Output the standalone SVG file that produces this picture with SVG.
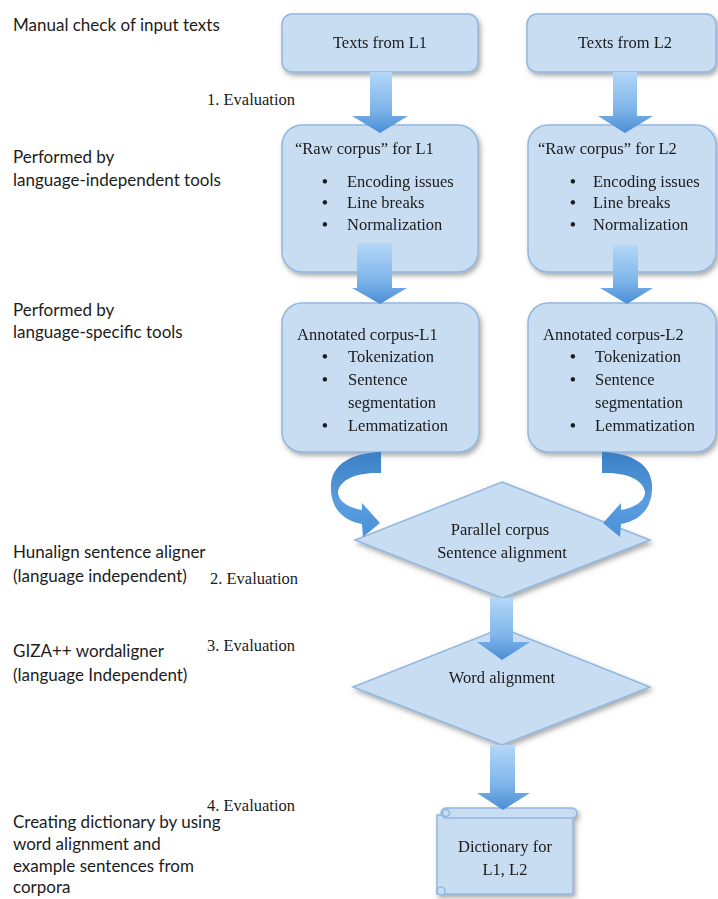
<svg xmlns="http://www.w3.org/2000/svg" width="718" height="899" viewBox="0 0 718 899">
<defs>
<style>
.box{fill:#c8ddf2;stroke:#92b8df;stroke-width:1.5}
.lbl{font-family:Lato,"Open Sans",sans-serif;font-size:17px;fill:#1c1c1c}
.ser{font-family:"Liberation Serif","Times New Roman",serif;font-size:16.5px;fill:#1a1a1a}
.bul{font-weight:bold}
.arr{fill:url(#ag)}
.carr{fill:url(#cg)}
</style>
<linearGradient id="ag" x1="0" y1="0" x2="0" y2="1">
<stop offset="0" stop-color="#b4d7f8"/>
<stop offset="0.6" stop-color="#7fb5ea"/>
<stop offset="1" stop-color="#4a8dd5"/>
</linearGradient>
<linearGradient id="cg" x1="0" y1="0" x2="0" y2="1">
<stop offset="0" stop-color="#3a7ec4"/>
<stop offset="0.6" stop-color="#5a9ee0"/>
<stop offset="1" stop-color="#4a90d8"/>
</linearGradient>
<filter id="sh" x="-10%" y="-10%" width="130%" height="140%">
<feDropShadow dx="2" dy="3" stdDeviation="2.5" flood-color="#555" flood-opacity="0.5"/>
</filter>
</defs>
<rect width="718" height="899" fill="#fff"/>

<g id="labels">
<text class="lbl" x="13" y="31">Manual check of input texts</text>
<text class="lbl" x="13" y="163">Performed by</text>
<text class="lbl" x="13" y="186">language-independent tools</text>
<text class="lbl" x="13" y="316">Performed by</text>
<text class="lbl" x="13" y="338">language-specific tools</text>
<text class="lbl" x="13" y="558">Hunalign sentence aligner</text>
<text class="lbl" x="13" y="582">(language independent)</text>
<text class="lbl" x="13" y="657">GIZA++ wordaligner</text>
<text class="lbl" x="13" y="681">(language Independent)</text>
<text class="lbl" x="13" y="828">Creating dictionary by using</text>
<text class="lbl" x="13" y="850">word alignment and</text>
<text class="lbl" x="13" y="872">example sentences from</text>
<text class="lbl" x="13" y="893">corpora</text>
<text class="ser" x="207" y="105">1. Evaluation</text>
<text class="ser" x="210" y="584">2. Evaluation</text>
<text class="ser" x="207" y="651">3. Evaluation</text>
<text class="ser" x="207" y="811">4. Evaluation</text>
</g>

<g id="texts-l1" filter="url(#sh)">
<rect class="box" x="282" y="14" width="196" height="58" rx="10"/>
<text class="ser" x="380" y="48" text-anchor="middle">Texts from L1</text>
</g>
<g id="texts-l2" filter="url(#sh)">
<rect class="box" x="527" y="14" width="189" height="58" rx="10"/>
<text class="ser" x="625" y="48" text-anchor="middle">Texts from L2</text>
</g>

<g id="raw-l1" filter="url(#sh)">
<rect class="box" x="282" y="125" width="196" height="147" rx="20"/>
<text class="ser" x="295" y="154">“Raw corpus” for L1</text>
<text class="ser bul" x="322" y="187">•</text><text class="ser" x="347" y="187">Encoding issues</text>
<text class="ser bul" x="322" y="208">•</text><text class="ser" x="347" y="208">Line breaks</text>
<text class="ser bul" x="322" y="230">•</text><text class="ser" x="347" y="230">Normalization</text>
</g>
<g id="raw-l2" filter="url(#sh)">
<rect class="box" x="528" y="125" width="188" height="147" rx="20"/>
<text class="ser" x="538" y="154">“Raw corpus” for L2</text>
<text class="ser bul" x="570" y="187">•</text><text class="ser" x="593" y="187">Encoding issues</text>
<text class="ser bul" x="570" y="208">•</text><text class="ser" x="593" y="208">Line breaks</text>
<text class="ser bul" x="570" y="230">•</text><text class="ser" x="593" y="230">Normalization</text>
</g>

<g id="ann-l1" filter="url(#sh)">
<rect class="box" x="282" y="303" width="197" height="149" rx="20"/>
<text class="ser" x="297" y="340">Annotated corpus-L1</text>
<text class="ser bul" x="322" y="362">•</text><text class="ser" x="348" y="362">Tokenization</text>
<text class="ser bul" x="322" y="385">•</text><text class="ser" x="348" y="385">Sentence</text>
<text class="ser" x="348" y="408">segmentation</text>
<text class="ser bul" x="322" y="431">•</text><text class="ser" x="348" y="431">Lemmatization</text>
</g>
<g id="ann-l2" filter="url(#sh)">
<rect class="box" x="528" y="303" width="188" height="149" rx="20"/>
<text class="ser" x="543" y="340">Annotated corpus-L2</text>
<text class="ser bul" x="570" y="362">•</text><text class="ser" x="595" y="362">Tokenization</text>
<text class="ser bul" x="570" y="385">•</text><text class="ser" x="595" y="385">Sentence</text>
<text class="ser" x="595" y="408">segmentation</text>
<text class="ser bul" x="570" y="431">•</text><text class="ser" x="595" y="431">Lemmatization</text>
</g>

<g id="parallel" filter="url(#sh)">
<polygon class="box" points="502,482 650,540 502,598 355,540"/>
<text class="ser" x="500" y="535" text-anchor="middle">Parallel corpus</text>
<text class="ser" x="502" y="558" text-anchor="middle">Sentence alignment</text>
</g>

<g id="word" filter="url(#sh)">
<polygon class="box" points="502,628 650,687 502,745 353,687"/>
<text class="ser" x="502" y="683" text-anchor="middle">Word alignment</text>
</g>

<g id="dictionary" filter="url(#sh)">
<path class="box" d="M437 815 H573 V894 H437 Z"/>
<rect class="box" x="441" y="808" width="136" height="10" rx="5"/>
<circle class="box" cx="446" cy="813" r="3.5"/>
<circle class="box" cx="441" cy="891" r="4"/>
<text class="ser" x="505" y="852" text-anchor="middle">Dictionary for</text>
<text class="ser" x="505" y="875" text-anchor="middle">L1, L2</text>
</g>

<g id="connectors">
<path class="arr" d="M370 72 H392 V116 H408 L380 133 L352 116 H370 Z"/>
<path class="arr" d="M613 72 H637 V116 H653 L625 133 L598 116 H613 Z"/>
<path class="arr" d="M357 243 H392 V288 H407 L380 304 L352 288 H357 Z"/>
<path class="arr" d="M613 245 H638 V288 H653 L627 304 L600 288 H613 Z"/>
<path class="carr" d="M381 452 L381 473 C360 472 340 478 338 492 C338 502 350 508 362 510 L362 503 L380 523 L363 537 L362 524 C340 520 330 505 331 485 C332 465 350 453 381 452 Z"/>
<path class="carr" d="M602 452 L602 473 C623 472 643 478 645 492 C645 502 633 508 621 510 L621 503 L603 523 L620 537 L621 524 C643 520 653 505 652 485 C651 465 633 453 602 452 Z"/>
<path class="arr" d="M490 598 H513 V642 H530 L502 660 L477 642 H490 Z"/>
<path class="arr" d="M490 745 H515 V793 H530 L503 810 L477 793 H490 Z"/>
</g>
</svg>
